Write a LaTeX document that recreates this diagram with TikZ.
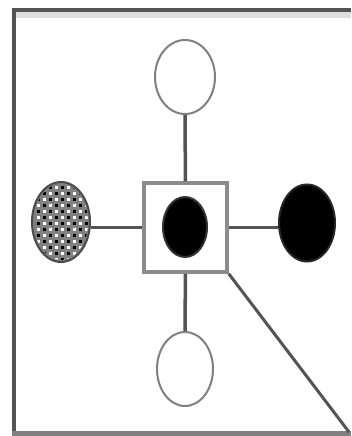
\documentclass[tikz,border=0pt]{standalone}
\usepackage{tikz}
\usetikzlibrary{shapes.geometric}
\definecolor{rimgray}{gray}{0.5}
\definecolor{linkgray}{gray}{0.33}
\tikzset{
  blob/.style={ellipse, draw=rimgray, line width=2pt, inner sep=0pt, minimum width=#1},
  link/.style={draw=linkgray, line width=3.5pt}
}

\begin{document}
\begin{tikzpicture}[x=1pt,y=-1pt]
                \useasboundingbox (0,0) rectangle (351,436);
                \fill[white] (0,0) rectangle (351,436);

                % Frame (open on the right)
                \fill[gray!25] (12,12) rectangle (351,18);
                \draw[linkgray, line width=4pt] (351,10) -- (14,10) -- (14,433);
                \draw[rimgray, line width=5pt] (12,433) -- (351,433);

                % Hub and core
                \node[draw=rimgray!90, line width=3.5pt, minimum width=83pt, minimum height=89pt] (hub) at (185.5,227.5) {};
                \node[blob=44pt, minimum height=60pt, fill=black, draw=black!80] (core) at (185,227) {};

                % Outer blobs
                \node[blob=60pt, minimum height=74pt] (top) at (185,77) {};
                \node[blob=56pt, minimum height=74pt] (bottom) at (185,369) {};
                \node[blob=56pt, minimum height=77pt, fill=black, draw=black!85] (right) at (307,223) {};
                \node[blob=58pt, minimum height=80pt, draw=gray!60!black, fill=gray] (left) at (61,222) {};

                % Checker on the left blob
                \begin{scope}
                    \clip (left.center) ellipse (27 and 38);
                    \foreach \i in {0,...,10}
                        \foreach \j in {0,...,14} {
                            \pgfmathparse{int(mod(\i+\j,2))}
                            \ifnum\pgfmathresult=0
                                \fill[black] (31+6*\i,180+6*\j) rectangle +(2.5,2.5);
                            \else
                                \fill[white] (31+6*\i,180+6*\j) rectangle +(2.5,2.5);
                            \fi
                        }
                \end{scope}

                % Links to the hub
                \draw[link] (top) -- (hub);
                \draw[link] (hub) -- (bottom);
                \draw[link] (left.east |- hub) -- (hub.west);
                \draw[link] (hub.east) -- (right.west |- hub);

                % Long diagonal
                \coordinate (corner) at (349,432);
                \draw[linkgray, line width=3pt] (hub.south east) -- (corner);
\end{tikzpicture}
\end{document}
